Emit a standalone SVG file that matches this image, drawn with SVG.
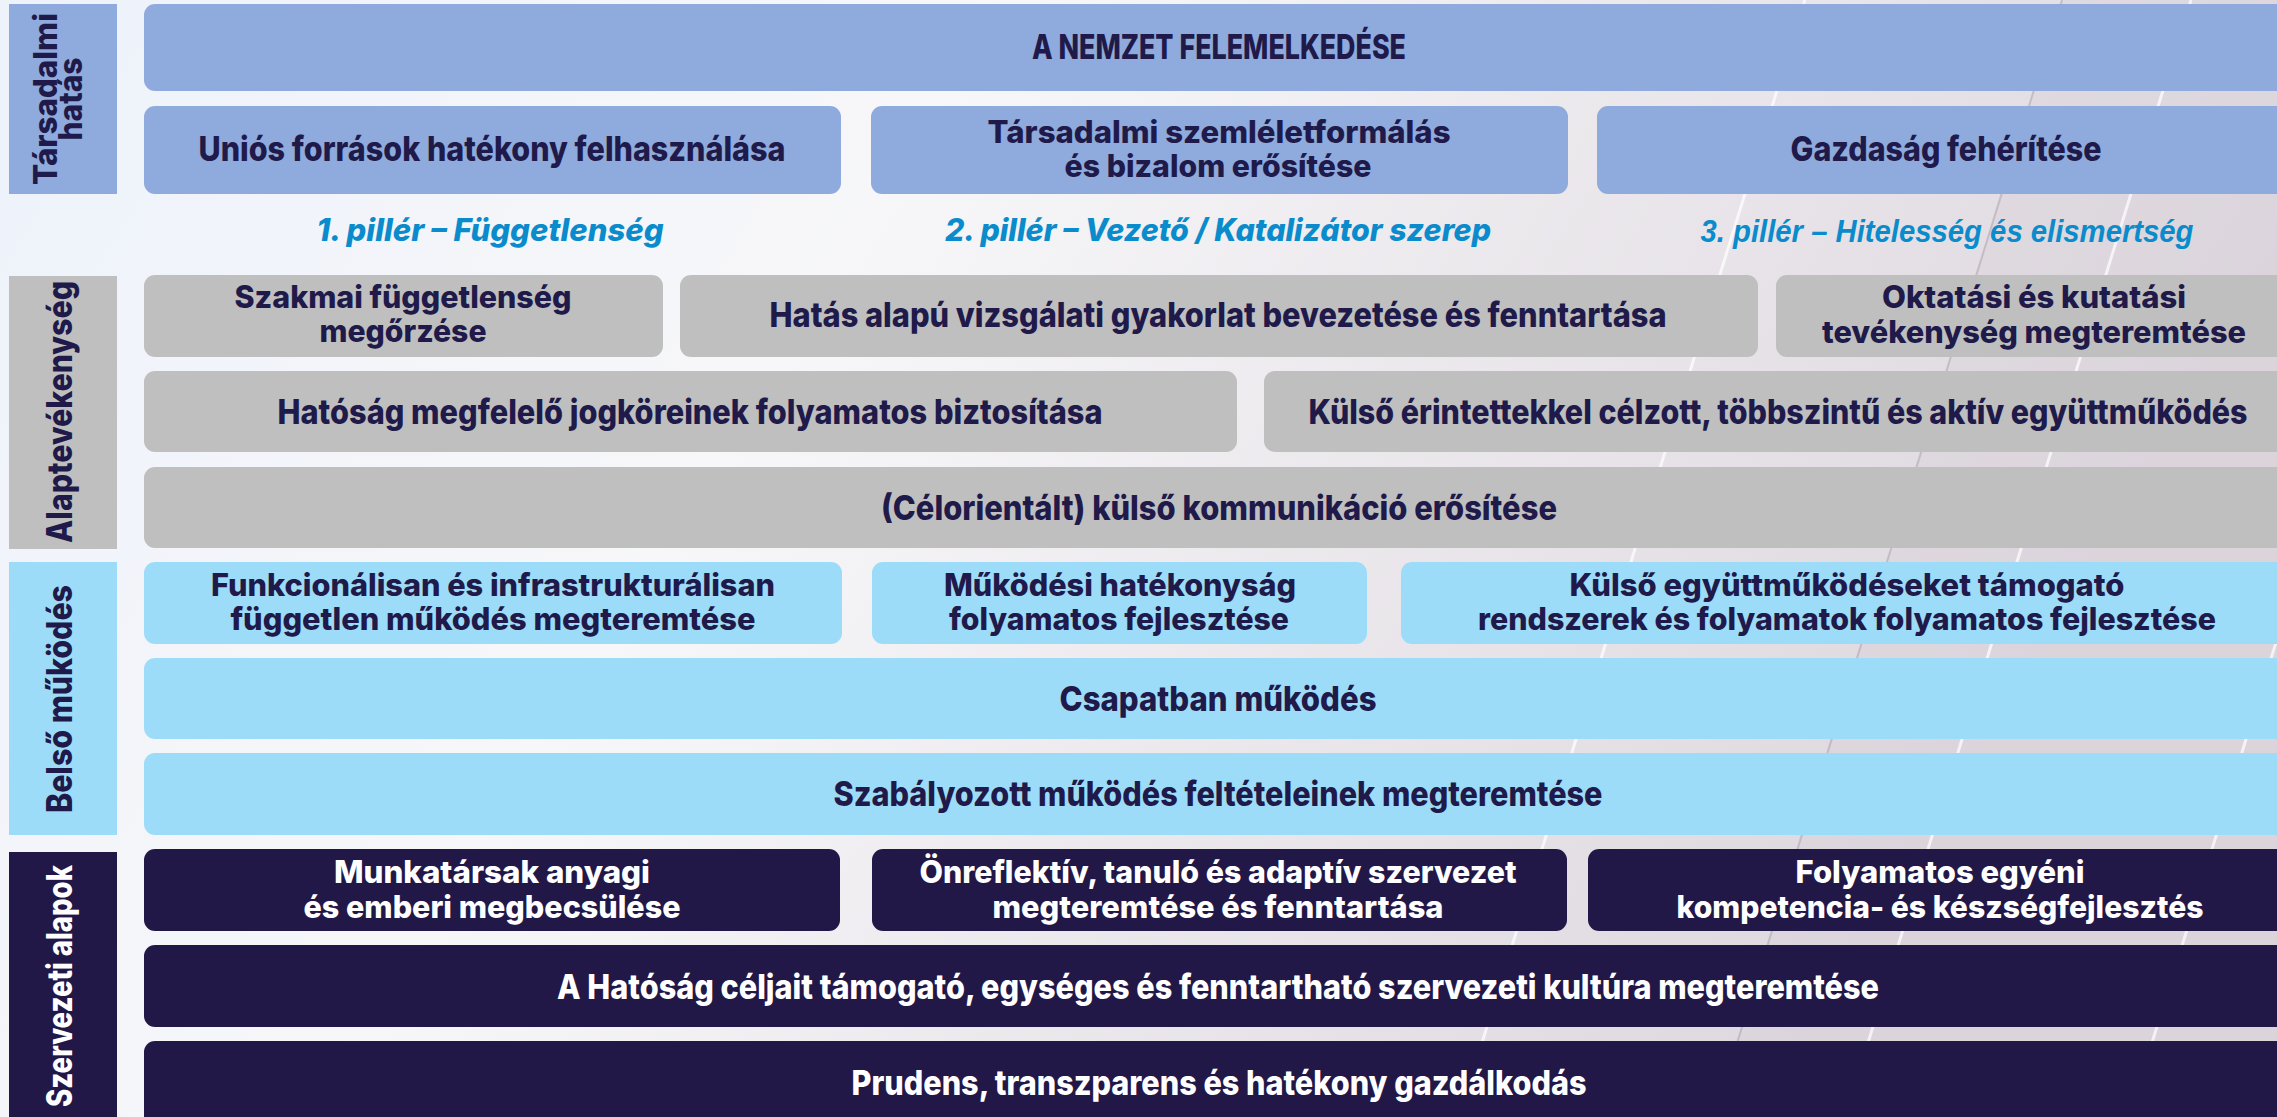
<svg xmlns="http://www.w3.org/2000/svg" width="2277" height="1117" viewBox="0 0 2277 1117">
<defs>
<linearGradient id="bg" x1="0" y1="0" x2="1" y2="0.3">
<stop offset="0" stop-color="#edf2fb"/>
<stop offset="0.4" stop-color="#f7f7f9"/>
<stop offset="0.75" stop-color="#e8e4e9"/>
<stop offset="1" stop-color="#ddd7de"/>
</linearGradient>
<style>
.t{font-family:Inter,'Open Sans','Liberation Sans',sans-serif;font-weight:800;fill:#201a4a;text-anchor:middle;font-size:34px}
.t2{font-size:31px}
.w{fill:#ffffff}
.side{font-weight:800;font-size:35px}
.sideS{font-size:32px}
.pill{font-style:italic;font-size:31px;fill:#0a8ccc}
.pill3{font-family:'Liberation Sans',Arial,sans-serif;font-weight:700;font-size:32px}
.blue{fill:#8FAADC}
.gray{fill:#BFBFBF}
.sky{fill:#9DDCF8}
.navy{fill:#211848}
.streak{stroke:#ffffff;stroke-width:3;opacity:0.7;fill:none}
</style>
</defs>

<g id="background">
<rect x="0" y="0" width="2277" height="1117" fill="url(#bg)"/>
<polygon points="2062,0 2277,0 2277,1117 1714,1117" fill="#d6cfd7" opacity="0.35"/>
<line x1="2062" y1="0" x2="1714" y2="1117" stroke="#a89fab" stroke-width="2" opacity="0.5"/>
<line class="streak" x1="1805" y1="0" x2="1459" y2="1117"/>
<line class="streak" x1="2191" y1="0" x2="1845" y2="1117"/>
<line class="streak" x1="2475" y1="0" x2="2129" y2="1117"/>
</g>

<g id="side-tarsadalmi-hatas">
<rect class="blue" x="9" y="4" width="108" height="190"/>
<text class="t side sideS" transform="translate(57,99) rotate(-90)" textLength="172" lengthAdjust="spacingAndGlyphs">Társadalmi</text>
<text class="t side sideS" transform="translate(82,99) rotate(-90)" textLength="83" lengthAdjust="spacingAndGlyphs">hatás</text>
</g>
<g id="side-alaptevekenyseg">
<rect class="gray" x="9" y="276" width="108" height="273"/>
<text class="t side" transform="translate(72,412) rotate(-90)" textLength="262" lengthAdjust="spacingAndGlyphs">Alaptevékenység</text>
</g>
<g id="side-belso-mukodes">
<rect class="sky" x="9" y="562" width="108" height="273"/>
<text class="t side" transform="translate(72,699) rotate(-90)" textLength="228" lengthAdjust="spacingAndGlyphs">Belső működés</text>
</g>
<g id="side-szervezeti-alapok">
<rect class="navy" x="9" y="852" width="108" height="270"/>
<text class="t side w" transform="translate(72,986) rotate(-90)" textLength="242" lengthAdjust="spacingAndGlyphs">Szervezeti alapok</text>
</g>

<g id="nemzet-felemelkedese">
<rect class="blue" x="144" y="4" width="2148" height="87" rx="11"/>
<text class="t" x="1219" y="59" textLength="374" lengthAdjust="spacingAndGlyphs">A NEMZET FELEMELKEDÉSE</text>
</g>
<g id="unios-forrasok">
<rect class="blue" x="144" y="106" width="697" height="88" rx="11"/>
<text class="t" x="492" y="161" textLength="587" lengthAdjust="spacingAndGlyphs">Uniós források hatékony felhasználása</text>
</g>
<g id="tarsadalmi-szemleletformalas">
<rect class="blue" x="871" y="106" width="697" height="88" rx="11"/>
<text class="t t2" x="1219" y="143" textLength="463" lengthAdjust="spacingAndGlyphs">Társadalmi szemléletformálás</text>
<text class="t t2" x="1218" y="177" textLength="307" lengthAdjust="spacingAndGlyphs">és bizalom erősítése</text>
</g>
<g id="gazdasag-feheritese">
<rect class="blue" x="1597" y="106" width="695" height="88" rx="11"/>
<text class="t" x="1946" y="161" textLength="311" lengthAdjust="spacingAndGlyphs">Gazdaság fehérítése</text>
</g>

<g id="pillar-1">
<text class="t pill" x="490" y="241" textLength="347" lengthAdjust="spacingAndGlyphs">1. pillér – Függetlenség</text>
</g>
<g id="pillar-2">
<text class="t pill" x="1218" y="241" textLength="546" lengthAdjust="spacingAndGlyphs">2. pillér – Vezető / Katalizátor szerep</text>
</g>
<g id="pillar-3">
<text class="t pill pill3" x="1947" y="242" textLength="493" lengthAdjust="spacingAndGlyphs">3. pillér – Hitelesség és elismertség</text>
</g>

<g id="szakmai-fuggetlenseg">
<rect class="gray" x="144" y="275" width="519" height="82" rx="11"/>
<text class="t t2" x="403" y="308" textLength="337" lengthAdjust="spacingAndGlyphs">Szakmai függetlenség</text>
<text class="t t2" x="403" y="342" textLength="167" lengthAdjust="spacingAndGlyphs">megőrzése</text>
</g>
<g id="hatas-alapu-vizsgalat">
<rect class="gray" x="680" y="275" width="1078" height="82" rx="11"/>
<text class="t" x="1218" y="327" textLength="897" lengthAdjust="spacingAndGlyphs">Hatás alapú vizsgálati gyakorlat bevezetése és fenntartása</text>
</g>
<g id="oktatasi-kutatasi">
<rect class="gray" x="1776" y="275" width="516" height="82" rx="11"/>
<text class="t t2" x="2034" y="308" textLength="304" lengthAdjust="spacingAndGlyphs">Oktatási és kutatási</text>
<text class="t t2" x="2034" y="343" textLength="424" lengthAdjust="spacingAndGlyphs">tevékenység megteremtése</text>
</g>
<g id="hatosag-jogkorei">
<rect class="gray" x="144" y="371" width="1093" height="81" rx="11"/>
<text class="t" x="690" y="424" textLength="825" lengthAdjust="spacingAndGlyphs">Hatóság megfelelő jogköreinek folyamatos biztosítása</text>
</g>
<g id="kulso-erintettek">
<rect class="gray" x="1264" y="371" width="1028" height="81" rx="11"/>
<text class="t" x="1778" y="424" textLength="939" lengthAdjust="spacingAndGlyphs">Külső érintettekkel célzott, többszintű és aktív együttműködés</text>
</g>
<g id="kulso-kommunikacio">
<rect class="gray" x="144" y="467" width="2148" height="81" rx="11"/>
<text class="t" x="1219" y="520" textLength="676" lengthAdjust="spacingAndGlyphs">(Célorientált) külső kommunikáció erősítése</text>
</g>

<g id="funkcionalis-fuggetlen-mukodes">
<rect class="sky" x="144" y="562" width="698" height="82" rx="11"/>
<text class="t t2" x="493" y="596" textLength="564" lengthAdjust="spacingAndGlyphs">Funkcionálisan és infrastrukturálisan</text>
<text class="t t2" x="493" y="630" textLength="525" lengthAdjust="spacingAndGlyphs">független működés megteremtése</text>
</g>
<g id="mukodesi-hatekonysag">
<rect class="sky" x="872" y="562" width="495" height="82" rx="11"/>
<text class="t t2" x="1120" y="596" textLength="352" lengthAdjust="spacingAndGlyphs">Működési hatékonyság</text>
<text class="t t2" x="1119" y="630" textLength="340" lengthAdjust="spacingAndGlyphs">folyamatos fejlesztése</text>
</g>
<g id="kulso-egyuttmukodes-rendszerek">
<rect class="sky" x="1401" y="562" width="891" height="82" rx="11"/>
<text class="t t2" x="1847" y="596" textLength="555" lengthAdjust="spacingAndGlyphs">Külső együttműködéseket támogató</text>
<text class="t t2" x="1847" y="630" textLength="738" lengthAdjust="spacingAndGlyphs">rendszerek és folyamatok folyamatos fejlesztése</text>
</g>
<g id="csapatban-mukodes">
<rect class="sky" x="144" y="658" width="2148" height="81" rx="11"/>
<text class="t" x="1218" y="711" textLength="317" lengthAdjust="spacingAndGlyphs">Csapatban működés</text>
</g>
<g id="szabalyozott-mukodes">
<rect class="sky" x="144" y="753" width="2148" height="82" rx="11"/>
<text class="t" x="1218" y="806" textLength="769" lengthAdjust="spacingAndGlyphs">Szabályozott működés feltételeinek megteremtése</text>
</g>

<g id="munkatarsak-megbecsulese">
<rect class="navy" x="144" y="849" width="696" height="82" rx="11"/>
<text class="t t2 w" x="492" y="883" textLength="316" lengthAdjust="spacingAndGlyphs">Munkatársak anyagi</text>
<text class="t t2 w" x="492" y="918" textLength="377" lengthAdjust="spacingAndGlyphs">és emberi megbecsülése</text>
</g>
<g id="onreflektiv-szervezet">
<rect class="navy" x="872" y="849" width="695" height="82" rx="11"/>
<text class="t t2 w" x="1218" y="883" textLength="597" lengthAdjust="spacingAndGlyphs">Önreflektív, tanuló és adaptív szervezet</text>
<text class="t t2 w" x="1218" y="918" textLength="451" lengthAdjust="spacingAndGlyphs">megteremtése és fenntartása</text>
</g>
<g id="kompetenciafejlesztes">
<rect class="navy" x="1588" y="849" width="704" height="82" rx="11"/>
<text class="t t2 w" x="1940" y="883" textLength="289" lengthAdjust="spacingAndGlyphs">Folyamatos egyéni</text>
<text class="t t2 w" x="1940" y="918" textLength="527" lengthAdjust="spacingAndGlyphs">kompetencia- és készségfejlesztés</text>
</g>
<g id="szervezeti-kultura">
<rect class="navy" x="144" y="945" width="2148" height="82" rx="11"/>
<text class="t w" x="1218" y="999" textLength="1322" lengthAdjust="spacingAndGlyphs">A Hatóság céljait támogató, egységes és fenntartható szervezeti kultúra megteremtése</text>
</g>
<g id="prudens-gazdalkodas">
<rect class="navy" x="144" y="1041" width="2148" height="90" rx="11"/>
<text class="t w" x="1219" y="1095" textLength="735" lengthAdjust="spacingAndGlyphs">Prudens, transzparens és hatékony gazdálkodás</text>
</g>

<g id="connectors"/>
</svg>
